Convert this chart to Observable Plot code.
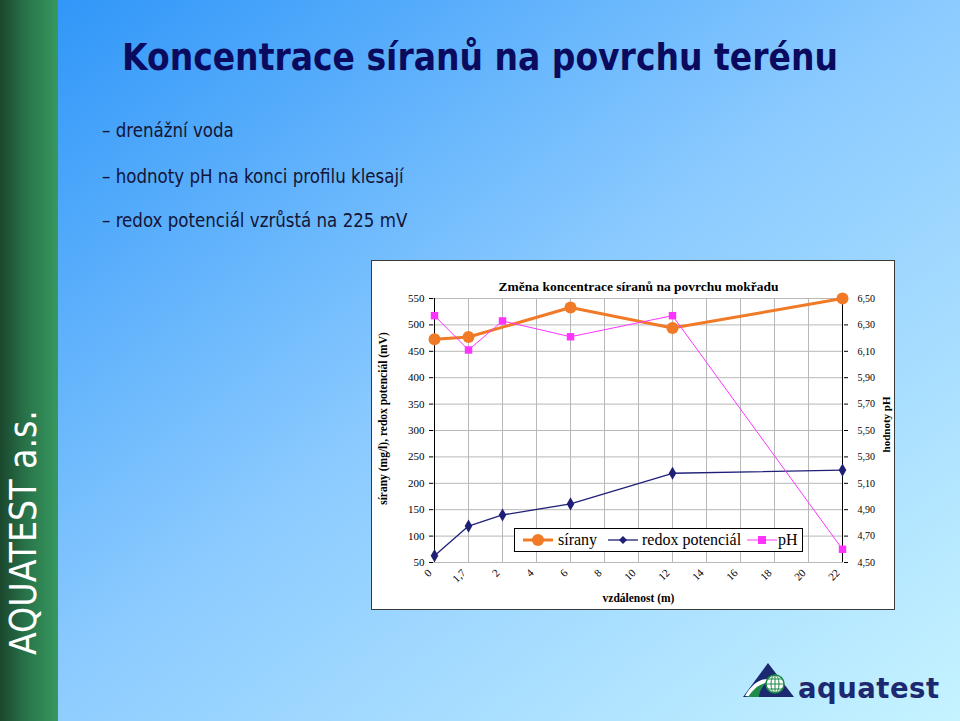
<!DOCTYPE html>
<html>
<head>
<meta charset="utf-8">
<script src="https://cdn.jsdelivr.net/npm/d3@7"></script>
<script src="https://cdn.jsdelivr.net/npm/@observablehq/plot@0.6"></script>
<style>
  html, body { margin: 0; padding: 0; }
  #slide { position: relative; width: 960px; height: 721px; overflow: hidden;
    background: linear-gradient(to bottom right, #2a93f8 0%, #8ccbff 50%, #c6f3ff 100%); }
  #band { position: absolute; left: 0; top: 0; width: 58px; height: 721px;
    background: linear-gradient(to right, #1b472d 0%, #28744a 45%, #37985f 100%); }
  #deco { position: absolute; left: 0; top: 0; }
  #box { position: absolute; left: 371px; top: 260px; width: 524px; height: 350px;
    box-sizing: border-box; border: 1px solid #3a3a3a; background: #fff; }
  #chart { position: absolute; left: 371px; top: 260px; width: 524px; height: 350px; }
  #legend { position: absolute; left: 514px; top: 528px; width: 289px; height: 24px;
    box-sizing: border-box; border: 1px solid #000; background: #fff;
    font-family: "Liberation Serif", serif; font-size: 16px; color: #000; }
  #legend .sw { position: absolute; top: 0; }
  #legend .lb { position: absolute; top: 0; height: 22px; line-height: 22px; white-space: nowrap; }
</style>
</head>
<body>
<div id="slide">
  <div id="band"></div>
  <svg id="deco" width="960" height="721"></svg>
  <div id="box"></div>
  <div id="chart"></div>
  <div id="legend"></div>
</div>
<script>
// ---- data ----
const categories = ["0", "1,7", "2", "4", "6", "8", "10", "12", "14", "16", "18", "20", "22"];
const siranyX = ["0", "1,7", "6", "12", "22"];
const siranyY = [473, 477, 533, 494, 550];
const redoxX = ["0", "1,7", "2", "6", "12", "22"];
const redoxY = [63, 119, 140, 161, 219, 225];
const phX = ["0", "1,7", "2", "6", "12", "22"];
const phY = [6.37, 6.11, 6.33, 6.21, 6.37, 4.60];
const leftTicks = [50, 100, 150, 200, 250, 300, 350, 400, 450, 500, 550];
const phTicks = [4.5, 4.7, 4.9, 5.1, 5.3, 5.5, 5.7, 5.9, 6.1, 6.3, 6.5];
const seriesNames = ["sírany", "redox potenciál", "pH"];
const seriesColors = ["#f07a26", "#1f1f78", "#ff33ff"];

const chartTitle = "Změna koncentrace síranů na povrchu mokřadu";
const yLabel = "sírany (mg/l), redox potenciál (mV)";
const y2Label = "hodnoty pH";
const xLabel = "vzdálenost (m)";

const slideTitle = "Koncentrace síranů na povrchu terénu";
const bullets = ["– drenážní voda", "– hodnoty pH na konci profilu klesají", "– redox potenciál vzrůstá na 225 mV"];

// ---- helpers ----
const leftDomain = [50, 550];
const phDomain = [4.5, 6.5];
const toLeft = p => leftDomain[0] + (p - phDomain[0]) / (phDomain[1] - phDomain[0]) * (leftDomain[1] - leftDomain[0]);
const fromLeft = v => phDomain[0] + (v - leftDomain[0]) / (leftDomain[1] - leftDomain[0]) * (phDomain[1] - phDomain[0]);
const fmtPh = p => p.toFixed(2).replace(".", ",");

const sirany = siranyX.map((x, i) => ({x, y: siranyY[i]}));
const redox = redoxX.map((x, i) => ({x, y: redoxY[i]}));
const ph = phX.map((x, i) => ({x, y: toLeft(phY[i])}));

const grid = "#b8b8b8";
const chart = Plot.plot({
  width: 524, height: 350,
  marginLeft: 62, marginRight: 52, marginTop: 38, marginBottom: 48,
  style: {fontFamily: "'Liberation Serif', serif", fontSize: "11px", color: "#000", background: "transparent", overflow: "visible"},
  x: {type: "point", domain: categories, padding: 0, axis: null},
  y: {domain: leftDomain, axis: null},
  marks: [
    Plot.gridX(categories, {stroke: grid, strokeOpacity: 1}),
    Plot.gridY(leftTicks, {stroke: grid, strokeOpacity: 1}),
    Plot.axisY(leftTicks, {anchor: "left", tickSize: 4, tickPadding: 5, label: null, tickFormat: d => String(d)}),
    Plot.axisY(phTicks.map(toLeft), {anchor: "right", tickSize: 4, tickPadding: 10, label: null, tickFormat: d => fmtPh(fromLeft(d)), fontSize: 10}),
    Plot.text(categories, {x: d => d, frameAnchor: "bottom", rotate: -45, textAnchor: "end", dy: 11, dx: -2, fontSize: 11}),
    Plot.ruleX([categories[0], categories[categories.length - 1]], {stroke: "#000", strokeWidth: 1}),
    Plot.line(sirany, {x: "x", y: "y", stroke: seriesColors[0], strokeWidth: 3}),
    Plot.dot(sirany, {x: "x", y: "y", fill: seriesColors[0], r: 6, symbol: "circle"}),
    Plot.line(redox, {x: "x", y: "y", stroke: seriesColors[1], strokeWidth: 1.3}),
    Plot.dot(redox, {x: "x", y: "y", fill: seriesColors[1], r: 4, symbol: "diamond"}),
    Plot.line(ph, {x: "x", y: "y", stroke: seriesColors[2], strokeWidth: 1}),
    Plot.dot(ph, {x: "x", y: "y", fill: seriesColors[2], r: 4.2, symbol: "square"}),
    Plot.text([chartTitle], {frameAnchor: "top", dy: -17, fontWeight: "bold", fontSize: 13.5}),
    Plot.text([xLabel], {frameAnchor: "bottom", dy: 39, fontWeight: "bold", fontSize: 11.5}),
    Plot.text([yLabel], {frameAnchor: "left", textAnchor: "middle", rotate: -90, dx: -50, dy: -12, fontWeight: "bold", fontSize: 11.5}),
    Plot.text([y2Label], {frameAnchor: "right", textAnchor: "middle", rotate: -90, dx: 43, dy: -6, fontWeight: "bold", fontSize: 11})
  ]
});
document.getElementById("chart").appendChild(chart);

// ---- legend ----
const legend = document.getElementById("legend");
const swatchX = [8, 93, 232];
const labelX = [43, 127, 263];
const symbols = ["circle", "diamond", "square"];
seriesNames.forEach((name, i) => {
  const s = 30;
  let mk = "";
  if (symbols[i] === "circle") mk = `<circle cx="15" cy="11" r="6" fill="${seriesColors[i]}"/>`;
  if (symbols[i] === "diamond") mk = `<path d="M15 7 L19 11 L15 15 L11 11 Z" fill="${seriesColors[i]}"/>`;
  if (symbols[i] === "square") mk = `<rect x="11" y="7" width="8" height="8" fill="${seriesColors[i]}"/>`;
  const sw = i === 0 ? 3 : (i === 1 ? 1.3 : 1);
  const d = document.createElement("div");
  d.className = "sw";
  d.style.left = swatchX[i] + "px";
  d.innerHTML = `<svg width="${s}" height="22"><line x1="0" x2="${s}" y1="11" y2="11" stroke="${seriesColors[i]}" stroke-width="${sw}"/>${mk}</svg>`;
  legend.appendChild(d);
  const l = document.createElement("div");
  l.className = "lb";
  l.style.left = labelX[i] + "px";
  l.textContent = name;
  legend.appendChild(l);
});

// ---- slide decoration ----
const NS = "http://www.w3.org/2000/svg";
const deco = document.getElementById("deco");
function addText(str, attrs, targetWidth) {
  const t = document.createElementNS(NS, "text");
  for (const k in attrs) t.setAttribute(k, attrs[k]);
  t.textContent = str;
  deco.appendChild(t);
  if (targetWidth) {
    const fs = parseFloat(attrs["font-size"]);
    const w = t.getComputedTextLength();
    t.setAttribute("font-size", (fs * targetWidth / w).toFixed(2));
  }
  return t;
}
const slideFont = "'DejaVu Sans Condensed', 'DejaVu Sans', sans-serif";
addText(slideTitle, {x: 122, y: 70, "font-family": slideFont, "font-weight": "bold", "font-size": 36, fill: "#0a0a5e"}, 716);
const probe = addText(bullets[1], {x: -1000, y: -100, "font-family": slideFont, "font-size": 19}, 302);
const bfs = probe.getAttribute("font-size");
probe.remove();
const by = [137, 183, 227];
bullets.forEach((b, i) => addText(b, {x: 102, y: by[i], "font-family": slideFont, "font-size": bfs, fill: "#141436"}));

const an = addText("AQUATEST a.s.", {x: 0, y: 0, "font-family": slideFont, "font-size": 34, fill: "#ffffff"}, 245);
an.setAttribute("transform", "translate(36,655) rotate(-90)");

const g = document.createElementNS(NS, "g");
g.innerHTML = `
  <path d="M768 663 L794 697 L743 697 Z" fill="#1c2870"/>
  <path d="M745 696 C752 684 760 678 770 679 C764 683 758 690 756 697 Z" fill="#ffffff"/>
  <path d="M748 697 C754 688 760 684 766 683 C761 688 759 693 759 697 Z" fill="#1f8a4a"/>
  <circle cx="775" cy="684" r="9" fill="#ffffff" stroke="#1f8a4a" stroke-width="1.5"/>
  <ellipse cx="775" cy="684" rx="4" ry="9" fill="none" stroke="#1f8a4a" stroke-width="1"/>
  <line x1="766" y1="684" x2="784" y2="684" stroke="#1f8a4a" stroke-width="1"/>
  <line x1="768" y1="679" x2="782" y2="679" stroke="#1f8a4a" stroke-width="1"/>
  <line x1="768" y1="689" x2="782" y2="689" stroke="#1f8a4a" stroke-width="1"/>
  <line x1="775" y1="675" x2="775" y2="693" stroke="#1f8a4a" stroke-width="1"/>`;
deco.appendChild(g);
addText("aquatest", {x: 798, y: 698, "font-family": "'DejaVu Sans', sans-serif", "font-weight": "bold", "font-size": 25, fill: "#1c2870", "letter-spacing": "0.5"}, 142);
</script>
</body>
</html>
